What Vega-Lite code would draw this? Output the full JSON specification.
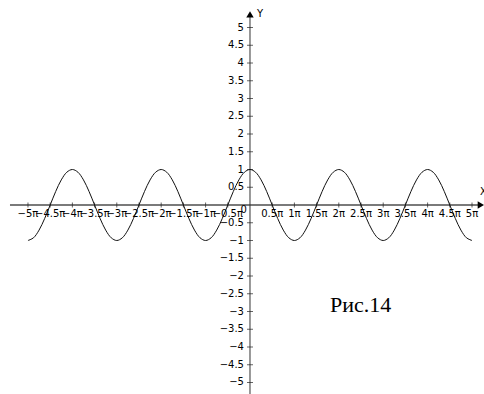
{
  "$schema": "https://vega.github.io/schema/vega-lite/v6.json",
  "width": 484,
  "height": 394,
  "padding": 0,
  "autosize": "none",
  "background": "white",
  "config": {"view": {"stroke": null}},
  "datasets": {
    "curve": [
      {"x": -5, "y": -1}, {"x": -4.875, "y": -0.9239}, {"x": -4.75, "y": -0.7071}, {"x": -4.625, "y": -0.3827},
      {"x": -4.5, "y": 0}, {"x": -4.375, "y": 0.3827}, {"x": -4.25, "y": 0.7071}, {"x": -4.125, "y": 0.9239},
      {"x": -4, "y": 1}, {"x": -3.875, "y": 0.9239}, {"x": -3.75, "y": 0.7071}, {"x": -3.625, "y": 0.3827},
      {"x": -3.5, "y": 0}, {"x": -3.375, "y": -0.3827}, {"x": -3.25, "y": -0.7071}, {"x": -3.125, "y": -0.9239},
      {"x": -3, "y": -1}, {"x": -2.875, "y": -0.9239}, {"x": -2.75, "y": -0.7071}, {"x": -2.625, "y": -0.3827},
      {"x": -2.5, "y": 0}, {"x": -2.375, "y": 0.3827}, {"x": -2.25, "y": 0.7071}, {"x": -2.125, "y": 0.9239},
      {"x": -2, "y": 1}, {"x": -1.875, "y": 0.9239}, {"x": -1.75, "y": 0.7071}, {"x": -1.625, "y": 0.3827},
      {"x": -1.5, "y": 0}, {"x": -1.375, "y": -0.3827}, {"x": -1.25, "y": -0.7071}, {"x": -1.125, "y": -0.9239},
      {"x": -1, "y": -1}, {"x": -0.875, "y": -0.9239}, {"x": -0.75, "y": -0.7071}, {"x": -0.625, "y": -0.3827},
      {"x": -0.5, "y": 0}, {"x": -0.375, "y": 0.3827}, {"x": -0.25, "y": 0.7071}, {"x": -0.125, "y": 0.9239},
      {"x": 0, "y": 1}, {"x": 0.125, "y": 0.9239}, {"x": 0.25, "y": 0.7071}, {"x": 0.375, "y": 0.3827},
      {"x": 0.5, "y": 0}, {"x": 0.625, "y": -0.3827}, {"x": 0.75, "y": -0.7071}, {"x": 0.875, "y": -0.9239},
      {"x": 1, "y": -1}, {"x": 1.125, "y": -0.9239}, {"x": 1.25, "y": -0.7071}, {"x": 1.375, "y": -0.3827},
      {"x": 1.5, "y": 0}, {"x": 1.625, "y": 0.3827}, {"x": 1.75, "y": 0.7071}, {"x": 1.875, "y": 0.9239},
      {"x": 2, "y": 1}, {"x": 2.125, "y": 0.9239}, {"x": 2.25, "y": 0.7071}, {"x": 2.375, "y": 0.3827},
      {"x": 2.5, "y": 0}, {"x": 2.625, "y": -0.3827}, {"x": 2.75, "y": -0.7071}, {"x": 2.875, "y": -0.9239},
      {"x": 3, "y": -1}, {"x": 3.125, "y": -0.9239}, {"x": 3.25, "y": -0.7071}, {"x": 3.375, "y": -0.3827},
      {"x": 3.5, "y": 0}, {"x": 3.625, "y": 0.3827}, {"x": 3.75, "y": 0.7071}, {"x": 3.875, "y": 0.9239},
      {"x": 4, "y": 1}, {"x": 4.125, "y": 0.9239}, {"x": 4.25, "y": 0.7071}, {"x": 4.375, "y": 0.3827},
      {"x": 4.5, "y": 0}, {"x": 4.625, "y": -0.3827}, {"x": 4.75, "y": -0.7071}, {"x": 4.875, "y": -0.9239},
      {"x": 5, "y": -1}
    ],
    "xticks": [
      {"v": -5, "label": "−5π"}, {"v": -4.5, "label": "−4.5π"}, {"v": -4, "label": "−4π"}, {"v": -3.5, "label": "−3.5π"},
      {"v": -3, "label": "−3π"}, {"v": -2.5, "label": "−2.5π"}, {"v": -2, "label": "−2π"}, {"v": -1.5, "label": "−1.5π"},
      {"v": -1, "label": "−1π"}, {"v": -0.5, "label": "−0.5π"}, {"v": 0.5, "label": "0.5π"}, {"v": 1, "label": "1π"},
      {"v": 1.5, "label": "1.5π"}, {"v": 2, "label": "2π"}, {"v": 2.5, "label": "2.5π"}, {"v": 3, "label": "3π"},
      {"v": 3.5, "label": "3.5π"}, {"v": 4, "label": "4π"}, {"v": 4.5, "label": "4.5π"}, {"v": 5, "label": "5π"}
    ],
    "yticks": [
      {"v": -5, "label": "−5"}, {"v": -4.5, "label": "−4.5"}, {"v": -4, "label": "−4"}, {"v": -3.5, "label": "−3.5"},
      {"v": -3, "label": "−3"}, {"v": -2.5, "label": "−2.5"}, {"v": -2, "label": "−2"}, {"v": -1.5, "label": "−1.5"},
      {"v": -1, "label": "−1"}, {"v": -0.5, "label": "−0.5"}, {"v": 0.5, "label": "0.5"}, {"v": 1, "label": "1"},
      {"v": 1.5, "label": "1.5"}, {"v": 2, "label": "2"}, {"v": 2.5, "label": "2.5"}, {"v": 3, "label": "3"},
      {"v": 3.5, "label": "3.5"}, {"v": 4, "label": "4"}, {"v": 4.5, "label": "4.5"}, {"v": 5, "label": "5"}
    ]
  },
  "layer": [
    {
      "data": {"values": [{}]},
      "mark": {"type": "rule", "color": "#7a7a7a", "strokeWidth": 2},
      "encoding": {
        "x": {"datum": -5.405, "type": "quantitative", "scale": {"domain": [-5.63, 5.27], "nice": false, "zero": false}, "axis": null},
        "x2": {"datum": 5.15},
        "y": {"datum": 0, "type": "quantitative", "scale": {"domain": [-5.324, 5.775], "nice": false, "zero": false}, "axis": null}
      }
    },
    {
      "data": {"values": [{}]},
      "mark": {"type": "rule", "color": "#333333", "strokeWidth": 1},
      "encoding": {
        "x": {"datum": 0, "type": "quantitative", "scale": {"domain": [-5.63, 5.27], "nice": false, "zero": false}, "axis": null},
        "y": {"datum": -5.4, "type": "quantitative", "scale": {"domain": [-5.324, 5.775], "nice": false, "zero": false}, "axis": null},
        "y2": {"datum": 5.3}
      }
    },
    {
      "data": {"name": "xticks"},
      "mark": {"type": "tick", "orient": "vertical", "size": 5, "thickness": 1, "color": "#222222"},
      "encoding": {
        "x": {"field": "v", "type": "quantitative", "scale": {"domain": [-5.63, 5.27], "nice": false, "zero": false}, "axis": null},
        "y": {"datum": 0, "type": "quantitative", "scale": {"domain": [-5.324, 5.775], "nice": false, "zero": false}, "axis": null}
      }
    },
    {
      "data": {"name": "yticks"},
      "mark": {"type": "tick", "orient": "horizontal", "size": 6, "thickness": 1, "color": "#222222"},
      "encoding": {
        "x": {"datum": 0, "type": "quantitative", "scale": {"domain": [-5.63, 5.27], "nice": false, "zero": false}, "axis": null},
        "y": {"field": "v", "type": "quantitative", "scale": {"domain": [-5.324, 5.775], "nice": false, "zero": false}, "axis": null}
      }
    },
    {
      "data": {"name": "curve"},
      "mark": {"type": "line", "color": "#111111", "strokeWidth": 1, "interpolate": "catmull-rom"},
      "encoding": {
        "x": {"field": "x", "type": "quantitative", "scale": {"domain": [-5.63, 5.27], "nice": false, "zero": false}, "axis": null},
        "y": {"field": "y", "type": "quantitative", "scale": {"domain": [-5.324, 5.775], "nice": false, "zero": false}, "axis": null}
      }
    },
    {
      "data": {"name": "xticks"},
      "mark": {"type": "text", "font": "DejaVu Sans", "fontSize": 10, "align": "center", "baseline": "top", "dy": 4, "color": "#000000"},
      "encoding": {
        "x": {"field": "v", "type": "quantitative", "scale": {"domain": [-5.63, 5.27], "nice": false, "zero": false}, "axis": null},
        "y": {"datum": 0, "type": "quantitative", "scale": {"domain": [-5.324, 5.775], "nice": false, "zero": false}, "axis": null},
        "text": {"field": "label"}
      }
    },
    {
      "data": {"name": "yticks"},
      "mark": {"type": "text", "font": "DejaVu Sans", "fontSize": 10, "align": "right", "baseline": "middle", "dx": -6, "color": "#000000"},
      "encoding": {
        "x": {"datum": 0, "type": "quantitative", "scale": {"domain": [-5.63, 5.27], "nice": false, "zero": false}, "axis": null},
        "y": {"field": "v", "type": "quantitative", "scale": {"domain": [-5.324, 5.775], "nice": false, "zero": false}, "axis": null},
        "text": {"field": "label"}
      }
    },
    {
      "data": {"values": [{"t": "0"}]},
      "mark": {"type": "text", "font": "DejaVu Sans", "fontSize": 10, "align": "right", "baseline": "top", "dx": -3, "dy": 0, "color": "#000000"},
      "encoding": {
        "x": {"datum": 0, "type": "quantitative", "scale": {"domain": [-5.63, 5.27], "nice": false, "zero": false}, "axis": null},
        "y": {"datum": 0, "type": "quantitative", "scale": {"domain": [-5.324, 5.775], "nice": false, "zero": false}, "axis": null},
        "text": {"field": "t"}
      }
    },
    {
      "data": {"values": [{}]},
      "mark": {"type": "point", "shape": "triangle-up", "filled": true, "size": 55, "color": "#000000", "opacity": 1},
      "encoding": {
        "x": {"datum": 0, "type": "quantitative", "scale": {"domain": [-5.63, 5.27], "nice": false, "zero": false}, "axis": null},
        "y": {"datum": 5.37, "type": "quantitative", "scale": {"domain": [-5.324, 5.775], "nice": false, "zero": false}, "axis": null}
      }
    },
    {
      "data": {"values": [{}]},
      "mark": {"type": "point", "shape": "triangle-right", "filled": true, "size": 55, "color": "#000000", "opacity": 1},
      "encoding": {
        "x": {"datum": 5.2, "type": "quantitative", "scale": {"domain": [-5.63, 5.27], "nice": false, "zero": false}, "axis": null},
        "y": {"datum": 0, "type": "quantitative", "scale": {"domain": [-5.324, 5.775], "nice": false, "zero": false}, "axis": null}
      }
    },
    {
      "data": {"values": [{"t": "Y"}]},
      "mark": {"type": "text", "font": "DejaVu Sans", "fontSize": 10, "align": "left", "baseline": "middle", "dx": 7, "color": "#000000"},
      "encoding": {
        "x": {"datum": 0, "type": "quantitative", "scale": {"domain": [-5.63, 5.27], "nice": false, "zero": false}, "axis": null},
        "y": {"datum": 5.37, "type": "quantitative", "scale": {"domain": [-5.324, 5.775], "nice": false, "zero": false}, "axis": null},
        "text": {"field": "t"}
      }
    },
    {
      "data": {"values": [{"t": "X"}]},
      "mark": {"type": "text", "font": "DejaVu Sans", "fontSize": 10, "align": "left", "baseline": "bottom", "dx": -1, "dy": -8, "color": "#000000"},
      "encoding": {
        "x": {"datum": 5.2, "type": "quantitative", "scale": {"domain": [-5.63, 5.27], "nice": false, "zero": false}, "axis": null},
        "y": {"datum": 0, "type": "quantitative", "scale": {"domain": [-5.324, 5.775], "nice": false, "zero": false}, "axis": null},
        "text": {"field": "t"}
      }
    },
    {
      "data": {"values": [{"t": "Рис.14"}]},
      "mark": {"type": "text", "font": "Liberation Serif", "fontSize": 22, "align": "left", "baseline": "alphabetic", "color": "#000000"},
      "encoding": {
        "x": {"datum": 1.8, "type": "quantitative", "scale": {"domain": [-5.63, 5.27], "nice": false, "zero": false}, "axis": null},
        "y": {"datum": -3.014, "type": "quantitative", "scale": {"domain": [-5.324, 5.775], "nice": false, "zero": false}, "axis": null},
        "text": {"field": "t"}
      }
    }
  ]
}
